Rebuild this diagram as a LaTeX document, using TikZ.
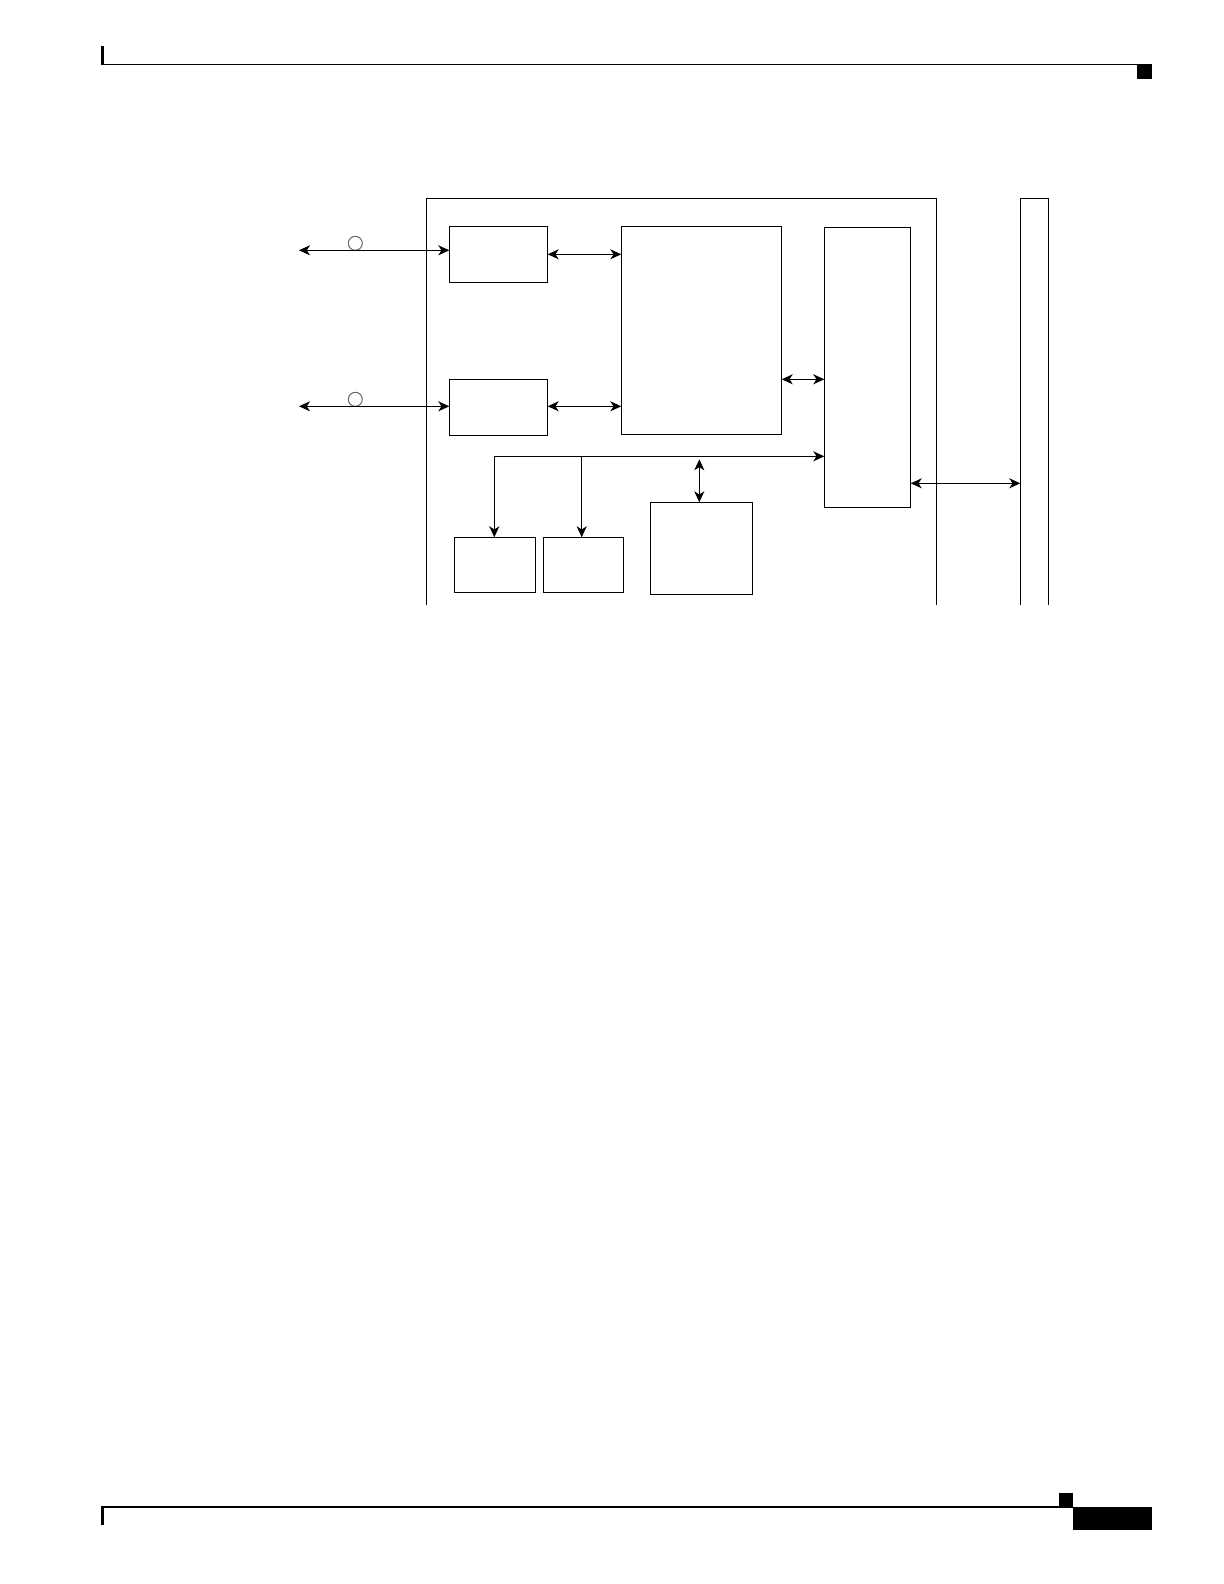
\documentclass[tikz,border=0pt]{standalone}
\usetikzlibrary{arrows.meta}

\begin{document}
\begin{tikzpicture}[x = 0.5pt, y = -0.5pt,
  >={Stealth[length=5.5pt,width=5pt,inset=1.6pt]}, %
  inner sep=0pt, outer sep=0pt,%
  line width=0.6pt,
  link/.style={<->},
  feed/.style={->},
  block node/.style={draw,rectangle,minimum width=#1},
  port node/.style={circle,draw=black!60,line width=0.5pt,minimum size=7pt},
  rule/.style={line width=0.8pt}]

\useasboundingbox (0,0) rectangle (1224,1584);

% page header and footer
\draw[rule] (101,64.5)--(1137,64.5);
\fill (101,46) rectangle (104,65);
\fill (1137,64) rectangle (1152,79);

\draw[rule] (101,1507)--(1073,1507);
\fill (101,1507) rectangle (104,1525);
\fill (1059,1493) rectangle (1073,1507);
\fill (1073,1507) rectangle (1152,1530);

% card outline and backplane rail
\draw (426.3,605)--(426.3,198.3)--(936.3,198.3)--(936.3,605);
\draw (1020.3,605)--(1020.3,198.3)--(1048.3,198.3)--(1048.3,605);

\node[block node=49.2pt,minimum height=28pt] (phyA) at (498.5,254.3) {};
\node[block node=49.2pt,minimum height=28pt] (phyB) at (498.5,407.3) {};
\node[block node=80.2pt,minimum height=104pt] (asic) at (701.5,330.3) {};
\node[block node=43.2pt,minimum height=140pt] (bridge) at (867.5,367.3) {};
\node[block node=40.7pt,minimum height=27.5pt] (memA) at (495,564.8) {};
\node[block node=40.2pt,minimum height=27.5pt] (memB) at (583.5,564.8) {};
\node[block node=51.2pt,minimum height=46pt] (cpu) at (701.5,548.3) {};

\node[port node] (portA) at (355.3,243.3) {};
\node[port node] (portB) at (355.3,399.3) {};

\coordinate (extA) at (299,250.3);
\coordinate (extB) at (299,406.3);
\coordinate (bus) at (494.3,456.3);
\coordinate (tapB) at (581.7,456.3);
\coordinate (cpubus) at (699.3,459.3);
\coordinate (rail) at (1020.3,483.3);

\draw[link] (extA)--(extA -| phyA.west);
\draw[link] (extB)--(extB -| phyB.west);

\draw[link] (phyA.east)--(phyA.east -| asic.west);
\draw[link] (phyB.east |- extB)--(extB -| asic.west);

\draw[link] (asic.east |- 0,379.3)--(bridge.west |- 0,379.3);

\draw[feed] (bus)--(bus -| bridge.west);
\draw[feed] (bus)--(bus |- memA.north);
\draw[feed] (tapB)--(tapB |- memB.north);
\draw[link] (cpubus)--(cpubus |- cpu.north);

\draw[link] (bridge.east |- rail)--(rail);

\end{tikzpicture}
\end{document}
